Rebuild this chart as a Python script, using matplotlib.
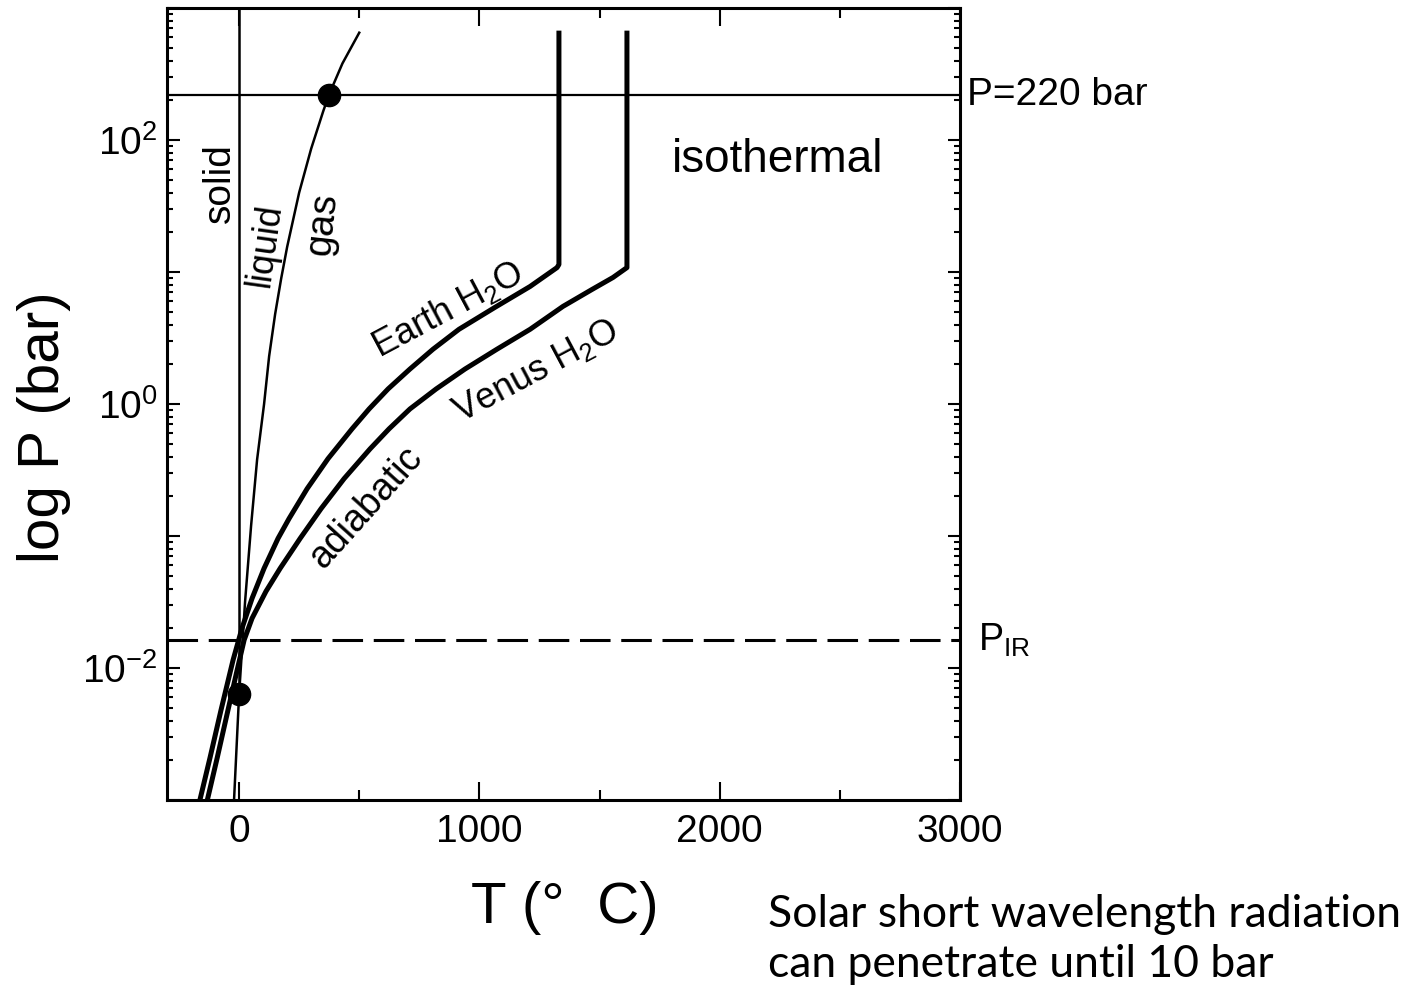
import matplotlib
matplotlib.use("Agg")
import matplotlib.pyplot as plt
from matplotlib.ticker import LogLocator, NullFormatter

plt.rcParams['font.family'] = ['Liberation Sans', 'DejaVu Sans']
plt.rcParams['mathtext.fontset'] = 'custom'
plt.rcParams['mathtext.rm'] = 'Liberation Sans'
plt.rcParams['mathtext.it'] = 'Liberation Sans:italic'
plt.rcParams['mathtext.bf'] = 'Liberation Sans:bold'

# === water phase boundaries (T in deg C, P in bar) ===
sat_T = [0, 10, 25, 50, 75, 104, 125, 150, 175, 200, 250, 300, 350, 374, 430, 500]
sat_P = [0.0063, 0.012, 0.032, 0.12, 0.38, 1.0, 2.3, 4.8, 8.9, 15.5, 40, 86, 165, 220, 380, 650]

subl_T = [0, -21]
subl_P = [0.0063, 0.001]

melt_T = [0, 0]
melt_P = [0.0063, 1000]

# === adiabats, then isothermal above ~11 bar ===
earth_T = [-166, -121, -75, -25, 12, 54, 104, 162, 208, 283, 370, 470, 541, 620,
           711, 807, 915, 1065, 1211, 1323, 1331, 1331]
earth_P = [0.00095, 0.00209, 0.00482, 0.0115, 0.0200, 0.0337, 0.0569, 0.0958, 0.1355,
           0.228, 0.385, 0.648, 0.917, 1.30, 1.84, 2.60, 3.68, 5.40, 7.77, 10.8, 11.4, 645]

venus_T = [-135, -91, -46, -8, 21, 54, 112, 171, 254, 341, 437, 545, 624, 711, 820,
           940, 1073, 1211, 1348, 1469, 1556, 1614, 1614]
venus_P = [0.00095, 0.00209, 0.00482, 0.00966, 0.0163, 0.0238, 0.0381, 0.0569, 0.0958,
           0.161, 0.272, 0.457, 0.648, 0.917, 1.30, 1.84, 2.60, 3.68, 5.49, 7.38, 9.09,
           10.8, 645]

# triple point and critical point
points_T = [0, 374]
points_P = [0.0063, 220]

p_crit = 220      # bar
p_ir = 0.0163     # bar

x_ticks = [0, 1000, 2000, 3000]
x_minor = [500, 1500, 2500]
y_ticks = [1e-3, 1e-2, 1e-1, 1e0, 1e1, 1e2, 1e3]
y_labels = ['', r'$\mathdefault{10^{-2}}$', '', r'$\mathdefault{10^{0}}$', '',
            r'$\mathdefault{10^{2}}$', '']

fig = plt.figure(figsize=(14.16, 9.89), dpi=100)
ax = fig.add_axes([167 / 1416, 189 / 989, 793 / 1416, 792 / 989])
ax.set_yscale('log')
ax.set_xlim(-300, 3000)
ax.set_ylim(1e-3, 1e3)

# phase boundaries
ax.plot(sat_T, sat_P, color='black', lw=1.8)
ax.plot(subl_T, subl_P, color='black', lw=1.8)
ax.plot(melt_T, melt_P, color='black', lw=1.8)

# adiabats
ax.plot(earth_T, earth_P, color='black', lw=3.6)
ax.plot(venus_T, venus_P, color='black', lw=3.6)

# reference pressures
ax.axhline(p_crit, color='black', lw=1.6)
ax.axhline(p_ir, color='black', lw=2.2, dashes=(10, 3.5))

ax.plot(points_T, points_P, 'o', color='black', ms=16, zorder=5)

# labels inside the plot
ax.text(-79, 47, 'solid', rotation=90, fontsize=28, ha='center', va='center')
ax.text(108, 16, 'liquid', rotation=82, fontsize=26, ha='center', va='center')
ax.text(350, 23, 'gas', rotation=84, fontsize=28, ha='center', va='center')
ax.text(2239, 57, 'isothermal', fontsize=33, ha='center', va='baseline')
ax.text(868, 5.2, r'Earth H$_2$O', rotation=28, fontsize=26, ha='center', va='center')
ax.text(1236, 1.78, r'Venus H$_2$O', rotation=28, fontsize=26, ha='center', va='center')
ax.text(528, 0.164, 'adiabatic', rotation=48, fontsize=27, ha='center', va='center')

# labels on the right of the axes
ax.text(1.009, p_crit, 'P=220 bar', transform=ax.get_yaxis_transform(),
        fontsize=28, ha='left', va='center')
ax.text(1.023, p_ir, r'P$_{\mathrm{IR}}$', transform=ax.get_yaxis_transform(),
        fontsize=27, ha='left', va='center')

# ticks
ax.set_xticks(x_ticks)
ax.set_xticks(x_minor, minor=True)
ax.set_yticks(y_ticks)
ax.set_yticklabels(y_labels)
ax.yaxis.set_minor_locator(LogLocator(base=10, subs=range(2, 10), numticks=20))
ax.yaxis.set_minor_formatter(NullFormatter())
ax.tick_params(axis='both', which='both', direction='in', top=True, right=True,
               width=1.5, labelsize=28)
ax.tick_params(axis='x', which='major', length=13, pad=10)
ax.tick_params(axis='x', which='minor', length=7)
ax.tick_params(axis='y', which='major', length=9, pad=7)
ax.tick_params(axis='y', which='minor', length=4.5)
for s in ax.spines.values():
    s.set_linewidth(2.2)

# axis titles
fig.text(44 / 1416, 1 - 427 / 989, 'log P (bar)', rotation=90, fontsize=42,
         ha='center', va='center')
fig.text(565 / 1416, 1 - 908 / 989, 'T (°  C)', fontsize=42, ha='center', va='center')

# note below the chart
fig.text(768 / 1416, 1 - 927 / 989, 'Solar short wavelength radiation',
         fontsize=32, family=['Lato', 'DejaVu Sans'], ha='left', va='baseline')
fig.text(768 / 1416, 1 - 977 / 989, 'can penetrate until 10 bar',
         fontsize=32, family=['Lato', 'DejaVu Sans'], ha='left', va='baseline')

fig.savefig('out.png', dpi=100)
